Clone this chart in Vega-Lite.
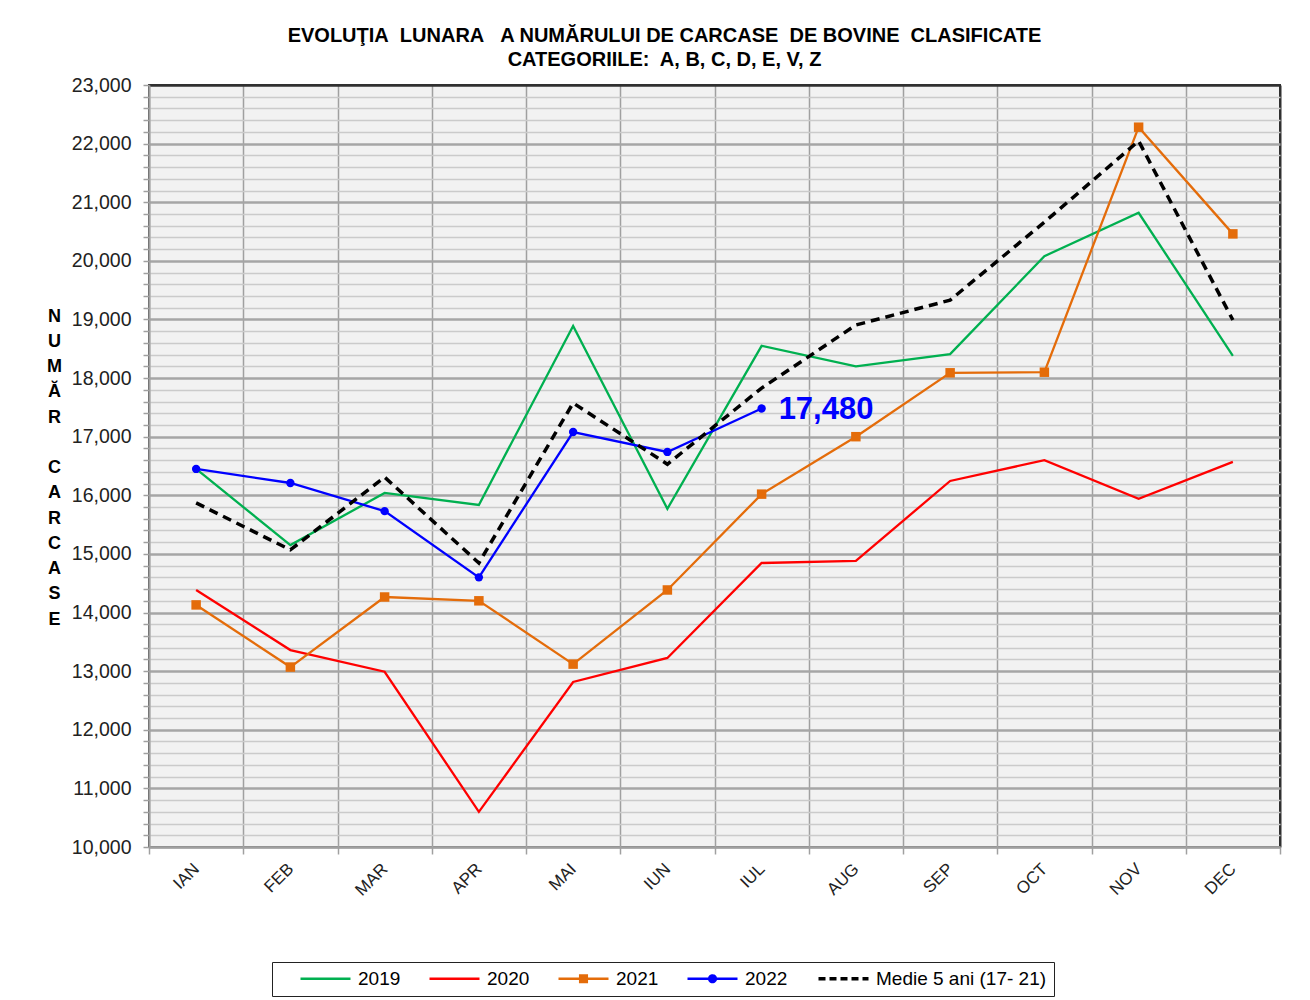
{
  "$schema": "https://vega.github.io/schema/vega-lite/v6.json",
  "width": 1131,
  "height": 762,
  "autosize": {"type": "none"},
  "padding": {"left": 149, "top": 85, "right": 30, "bottom": 153},
  "background": "white",
  "config": {
    "view": {"fill": "#f2f2f2", "stroke": "#303030", "strokeWidth": 2},
    "font": "Liberation Sans"
  },
  "title": {
    "text": ["EVOLUŢIA\u00a0 LUNARA\u00a0\u00a0 A NUMĂRULUI DE CARCASE\u00a0 DE BOVINE\u00a0 CLASIFICATE", "CATEGORIILE:\u00a0 A, B, C, D, E, V, Z"],
    "font": "Liberation Sans", "fontSize": 20, "fontWeight": "bold", "color": "black",
    "anchor": "middle", "dx": -50, "offset": 5, "lineHeight": 24
  },
  "data": {"values": [
    {"month": "IAN", "series": "2019", "value": 16450},
    {"month": "FEB", "series": "2019", "value": 15150},
    {"month": "MAR", "series": "2019", "value": 16040},
    {"month": "APR", "series": "2019", "value": 15835},
    {"month": "MAI", "series": "2019", "value": 18890},
    {"month": "IUN", "series": "2019", "value": 15770},
    {"month": "IUL", "series": "2019", "value": 18550},
    {"month": "AUG", "series": "2019", "value": 18200},
    {"month": "SEP", "series": "2019", "value": 18410},
    {"month": "OCT", "series": "2019", "value": 20080},
    {"month": "NOV", "series": "2019", "value": 20820},
    {"month": "DEC", "series": "2019", "value": 18380},
    {"month": "IAN", "series": "2020", "value": 14385},
    {"month": "FEB", "series": "2020", "value": 13360},
    {"month": "MAR", "series": "2020", "value": 12990},
    {"month": "APR", "series": "2020", "value": 10600},
    {"month": "MAI", "series": "2020", "value": 12815},
    {"month": "IUN", "series": "2020", "value": 13225},
    {"month": "IUL", "series": "2020", "value": 14845},
    {"month": "AUG", "series": "2020", "value": 14880},
    {"month": "SEP", "series": "2020", "value": 16245},
    {"month": "OCT", "series": "2020", "value": 16600},
    {"month": "NOV", "series": "2020", "value": 15940},
    {"month": "DEC", "series": "2020", "value": 16570},
    {"month": "IAN", "series": "2021", "value": 14130},
    {"month": "FEB", "series": "2021", "value": 13070},
    {"month": "MAR", "series": "2021", "value": 14265},
    {"month": "APR", "series": "2021", "value": 14200},
    {"month": "MAI", "series": "2021", "value": 13120},
    {"month": "IUN", "series": "2021", "value": 14385},
    {"month": "IUL", "series": "2021", "value": 16020},
    {"month": "AUG", "series": "2021", "value": 17000},
    {"month": "SEP", "series": "2021", "value": 18090},
    {"month": "OCT", "series": "2021", "value": 18100},
    {"month": "NOV", "series": "2021", "value": 22280},
    {"month": "DEC", "series": "2021", "value": 20460},
    {"month": "IAN", "series": "Medie 5 ani (17- 21)", "value": 15870},
    {"month": "FEB", "series": "Medie 5 ani (17- 21)", "value": 15070},
    {"month": "MAR", "series": "Medie 5 ani (17- 21)", "value": 16310},
    {"month": "APR", "series": "Medie 5 ani (17- 21)", "value": 14845},
    {"month": "MAI", "series": "Medie 5 ani (17- 21)", "value": 17575},
    {"month": "IUN", "series": "Medie 5 ani (17- 21)", "value": 16530},
    {"month": "IUL", "series": "Medie 5 ani (17- 21)", "value": 17830},
    {"month": "AUG", "series": "Medie 5 ani (17- 21)", "value": 18905},
    {"month": "SEP", "series": "Medie 5 ani (17- 21)", "value": 19330},
    {"month": "OCT", "series": "Medie 5 ani (17- 21)", "value": 20660},
    {"month": "NOV", "series": "Medie 5 ani (17- 21)", "value": 22045},
    {"month": "DEC", "series": "Medie 5 ani (17- 21)", "value": 18990},
    {"month": "IAN", "series": "2022", "value": 16450},
    {"month": "FEB", "series": "2022", "value": 16210},
    {"month": "MAR", "series": "2022", "value": 15730},
    {"month": "APR", "series": "2022", "value": 14600},
    {"month": "MAI", "series": "2022", "value": 17080},
    {"month": "IUN", "series": "2022", "value": 16740},
    {"month": "IUL", "series": "2022", "value": 17480}
  ]},
  "encoding": {
    "x": {
      "field": "month", "type": "ordinal",
      "sort": ["IAN", "FEB", "MAR", "APR", "MAI", "IUN", "IUL", "AUG", "SEP", "OCT", "NOV", "DEC"],
      "scale": {"paddingInner": 0, "paddingOuter": 0},
      "axis": {
        "title": null, "tickBand": "extent", "grid": true,
        "gridColor": {"condition": {"test": "datum.index === 1", "value": "#303030"}, "value": "#a0a0a0"},
        "gridWidth": {"condition": {"test": "datum.index === 1", "value": 2}, "value": 1.5},
        "tickColor": "#a0a0a0", "tickWidth": 1.5, "tickSize": 7,
        "domainColor": "#a0a0a0", "domainWidth": 2,
        "labelAngle": -45, "labelAlign": "right", "labelBaseline": "middle",
        "labelPadding": 12, "labelFontSize": 17, "labelColor": "#222", "labelFont": "Liberation Sans"
      }
    },
    "y": {
      "field": "value", "type": "quantitative",
      "scale": {"domain": [10000, 23000], "nice": false, "zero": false},
      "axis": {
        "tickCount": 65, "labelOverlap": false,
        "labelExpr": "datum.value % 1000 === 0 ? format(datum.value, ',') : ''",
        "grid": true,
        "gridColor": {"condition": [{"test": "datum.value === 23000", "value": "#303030"}, {"test": "datum.value % 1000 === 0", "value": "#a6a6a6"}], "value": "#cbcbcb"},
        "gridWidth": {"condition": {"test": "datum.value % 1000 === 0", "value": 2.5}, "value": 1.5},
        "tickColor": "#a0a0a0", "tickWidth": 1.5, "tickSize": 6,
        "domainColor": "#a0a0a0", "domainWidth": 2,
        "labelFontSize": 19.5, "labelColor": "#222", "labelPadding": 12, "labelFont": "Liberation Sans",
        "title": ["N", "U", "M", "Ă", "R", "\u2800", "C", "A", "R", "C", "A", "S", "E"],
        "titleAngle": 0, "titleX": -95, "titleY": 222, "titleAlign": "center", "titleBaseline": "top",
        "titleLineHeight": 25.25, "titleFontSize": 18, "titleFontWeight": "bold", "titleColor": "black", "titleFont": "Liberation Sans"
      }
    }
  },
  "layer": [
    {
      "transform": [{"filter": "datum.series !== 'Medie 5 ani (17- 21)'"}],
      "mark": {"type": "line", "strokeJoin": "miter", "strokeWidth": 2.3},
      "encoding": {
        "color": {
          "field": "series", "type": "nominal",
          "scale": {"domain": ["2019", "2020", "2021", "2022", "Medie 5 ani (17- 21)"], "range": ["#00b050", "#ff0000", "#e46c0a", "#0000ff", "#000000"]},
          "legend": {
            "orient": "none", "legendX": 123, "legendY": 877, "direction": "horizontal", "title": null,
            "symbolSize": 256, "labelOffset": 60, "columnPadding": 3, "padding": 7,
            "strokeColor": "#222", "fillColor": "white",
            "labelFontSize": 19, "labelFont": "Liberation Sans", "labelColor": "black", "labelLimit": 400,
            "labelExpr": "datum.label === 'Medie 5 ani (17- 21)' ? datum.label + '\u00a0\u00a0\u00a0' : datum.label",
            "encode": {"symbols": {"update": {
              "shape": {"signal": "datum.value === '2021' ? 'M-1,0M1.5,0H7.75M4.2,-0.42H5.05V0.42H4.2Z' : datum.value === '2022' ? 'M-1,0M1.5,0H7.75M5.05,0A0.42,0.42 0 1,1 4.2,0A0.42,0.42 0 1,1 5.05,0Z' : 'M-1,0M1.5,0H7.75'"},
              "fill": {"scale": "color", "field": "value"},
              "stroke": {"scale": "color", "field": "value"},
              "strokeWidth": {"signal": "datum.value === 'Medie 5 ani (17- 21)' ? 3.5 : 2.3"},
              "strokeDash": {"signal": "datum.value === 'Medie 5 ani (17- 21)' ? [7, 4] : [1, 0]"},
              "opacity": {"value": 1}
            }}}
          }
        }
      }
    },
    {
      "transform": [{"filter": "datum.series === 'Medie 5 ani (17- 21)'"}],
      "mark": {"type": "line", "strokeJoin": "miter", "strokeWidth": 3.5, "strokeDash": [9, 6], "color": "#000000"},
      "encoding": {}
    },
    {
      "transform": [{"filter": "datum.series === '2021'"}],
      "mark": {"type": "point", "shape": "square", "filled": true, "size": 90, "opacity": 1, "color": "#e46c0a"}
    },
    {
      "transform": [{"filter": "datum.series === '2022'"}],
      "mark": {"type": "point", "shape": "circle", "filled": true, "size": 70, "opacity": 1, "color": "#0000ff"}
    },
    {
      "transform": [{"filter": "datum.series === '2022' && datum.month === 'IUL'"}],
      "mark": {"type": "text", "align": "left", "baseline": "middle", "dx": 17, "dy": 1, "fontSize": 31, "fontWeight": "bold", "color": "#0000ff", "font": "Liberation Sans"},
      "encoding": {"text": {"field": "value", "type": "quantitative", "format": ","}}
    }
  ]
}
